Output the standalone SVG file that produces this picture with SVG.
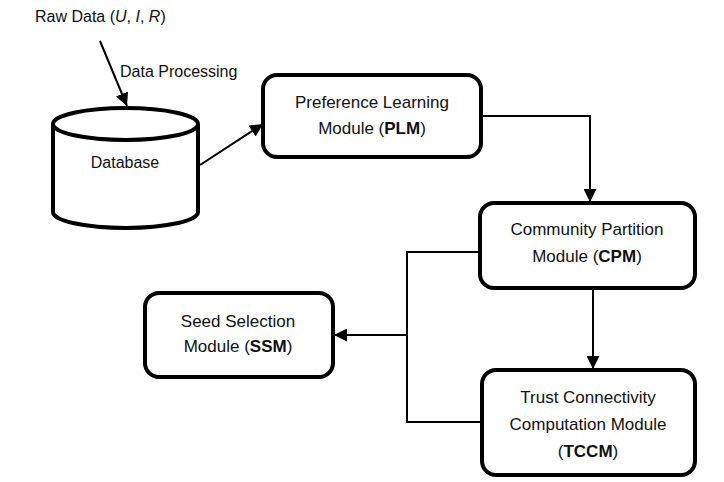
<svg xmlns="http://www.w3.org/2000/svg" width="724" height="482" viewBox="0 0 724 482">
<style>
  text { font-family: "Liberation Sans", Arial, sans-serif; font-size: 16px; fill: #111; }
  .m { font-size: 17px; }
  .box { fill: #fff; stroke: #000; stroke-width: 4; }
  .conn { fill: none; stroke: #000; stroke-width: 2; }
  .c { text-anchor: middle; }
  .b { font-weight: bold; }
</style>
<defs>
  <marker id="arr" markerWidth="13" markerHeight="13" viewBox="0 0 13 13" refX="13" refY="6.5" orient="auto" markerUnits="userSpaceOnUse">
    <path d="M0,0 L13,6.5 L0,13 Z" fill="#000"/>
  </marker>
</defs>
<rect width="724" height="482" fill="#fff"/>

<g id="raw-data">
  <text x="35" y="22">Raw Data (<tspan font-style="italic">U</tspan>, <tspan font-style="italic">I</tspan>, <tspan font-style="italic">R</tspan>)</text>
</g>
<g id="data-processing-label">
  <text x="120" y="77">Data Processing</text>
</g>

<g id="database">
  <path class="box" d="M53,124 L53,212 A72.5,16 0 0 0 198,212 L198,124"/>
  <ellipse class="box" cx="125.5" cy="124" rx="72.5" ry="16"/>
  <text class="c" x="125" y="168">Database</text>
</g>

<g id="plm">
  <rect class="box" x="263" y="75" width="218" height="82" rx="14"/>
  <text class="c m" x="372" y="108">Preference Learning</text>
  <text class="c m" x="372" y="134">Module (<tspan class="b">PLM</tspan>)</text>
</g>

<g id="cpm">
  <rect class="box" x="480" y="203" width="215" height="85" rx="14"/>
  <text class="c m" x="587" y="235">Community Partition</text>
  <text class="c m" x="587" y="262">Module (<tspan class="b">CPM</tspan>)</text>
</g>

<g id="tccm">
  <rect class="box" x="482" y="370" width="213" height="105" rx="14"/>
  <text class="c m" x="588" y="403">Trust Connectivity</text>
  <text class="c m" x="588" y="430">Computation Module</text>
  <text class="c m" x="588" y="457">(<tspan class="b">TCCM</tspan>)</text>
</g>

<g id="ssm">
  <rect class="box" x="145" y="293" width="188" height="84" rx="14"/>
  <text class="c m" x="238" y="327">Seed Selection</text>
  <text class="c m" x="238" y="352">Module (<tspan class="b">SSM</tspan>)</text>
</g>

<g id="connectors">
  <line class="conn" stroke-width="3" x1="100" y1="41" x2="127" y2="106" marker-end="url(#arr)"/>
  <line class="conn" x1="200" y1="165" x2="263" y2="124" marker-end="url(#arr)"/>
  <polyline class="conn" points="481,116 590,116 590,202" marker-end="url(#arr)"/>
  <line class="conn" x1="593" y1="288" x2="593" y2="369" marker-end="url(#arr)"/>
  <polyline class="conn" points="480,252 407,252 407,422 482,422"/>
  <line class="conn" x1="407" y1="335" x2="334" y2="335" marker-end="url(#arr)"/>
</g>
</svg>
